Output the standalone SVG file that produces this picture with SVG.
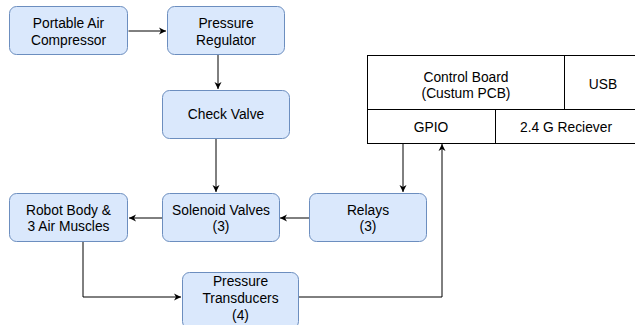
<svg xmlns="http://www.w3.org/2000/svg" width="635" height="325" viewBox="0 0 635 325">
<defs>
<marker id="ah" markerWidth="8" markerHeight="8" refX="7" refY="4" orient="auto" markerUnits="userSpaceOnUse">
<path d="M0,0.5 L7,4 L0,7.5 L2,4 Z" fill="#000"/>
</marker>
<style>
.n{fill:#dae8fc;stroke:#6c8ebf;stroke-width:1}
.t{font-family:"Liberation Sans",Arial,sans-serif;font-size:13.8px;fill:#000;text-anchor:middle;dominant-baseline:central}
.c{fill:none;stroke:#000;stroke-width:1;marker-end:url(#ah)}
.b{fill:#fff;stroke:#000;stroke-width:1}
</style>
</defs>
<rect width="635" height="325" fill="#fff"/>
<g id="connectors">
<path class="c" d="M128.5,31 H166"/>
<path class="c" d="M218,55 V89"/>
<path class="c" d="M216,138 V192"/>
<path class="c" d="M309,218 H280"/>
<path class="c" d="M162,218 H129"/>
<path class="c" d="M83,242 V297 H181"/>
<path class="c" d="M299,297 H442 V144"/>
<path class="c" d="M403,144 V192"/>
</g>
<g id="compressor">
<rect class="n" x="9.5" y="6.5" width="118" height="48" rx="7"/>
<text class="t" x="68.5" y="23">Portable Air</text>
<text class="t" x="68.5" y="40">Compressor</text>
</g>
<g id="regulator">
<rect class="n" x="167.5" y="6.5" width="117" height="48" rx="7"/>
<text class="t" x="226" y="23">Pressure</text>
<text class="t" x="226" y="40">Regulator</text>
</g>
<g id="checkvalve">
<rect class="n" x="162.5" y="90.5" width="127" height="48" rx="7"/>
<text class="t" x="226" y="114">Check Valve</text>
</g>
<g id="robot">
<rect class="n" x="9.5" y="193.5" width="118" height="48" rx="7"/>
<text class="t" x="68.5" y="210">Robot Body &amp;</text>
<text class="t" x="68.5" y="226">3 Air Muscles</text>
</g>
<g id="solenoid">
<rect class="n" x="162.5" y="193.5" width="117" height="48" rx="7"/>
<text class="t" x="221" y="210">Solenoid Valves</text>
<text class="t" x="221" y="226">(3)</text>
</g>
<g id="relays">
<rect class="n" x="309.5" y="193.5" width="117" height="48" rx="7"/>
<text class="t" x="368" y="210">Relays</text>
<text class="t" x="368" y="226">(3)</text>
</g>
<g id="transducers">
<rect class="n" x="182.5" y="272.5" width="116" height="56" rx="7"/>
<text class="t" x="240.5" y="281">Pressure</text>
<text class="t" x="240.5" y="298">Transducers</text>
<text class="t" x="240.5" y="315">(4)</text>
</g>
<g id="controlboard">
<rect class="b" x="367.5" y="55.5" width="280" height="54"/>
<line x1="564.5" y1="55.5" x2="564.5" y2="109.5" stroke="#000"/>
<text class="t" x="466" y="77">Control Board</text>
<text class="t" x="466" y="93">(Custum PCB)</text>
<text class="t" x="603" y="84">USB</text>
</g>
<g id="gpio">
<rect class="b" x="367.5" y="109.5" width="128" height="34"/>
<text class="t" x="431" y="127">GPIO</text>
</g>
<g id="receiver">
<rect class="b" x="495.5" y="109.5" width="152" height="34"/>
<text class="t" x="566" y="127">2.4 G Reciever</text>
</g>
</svg>
